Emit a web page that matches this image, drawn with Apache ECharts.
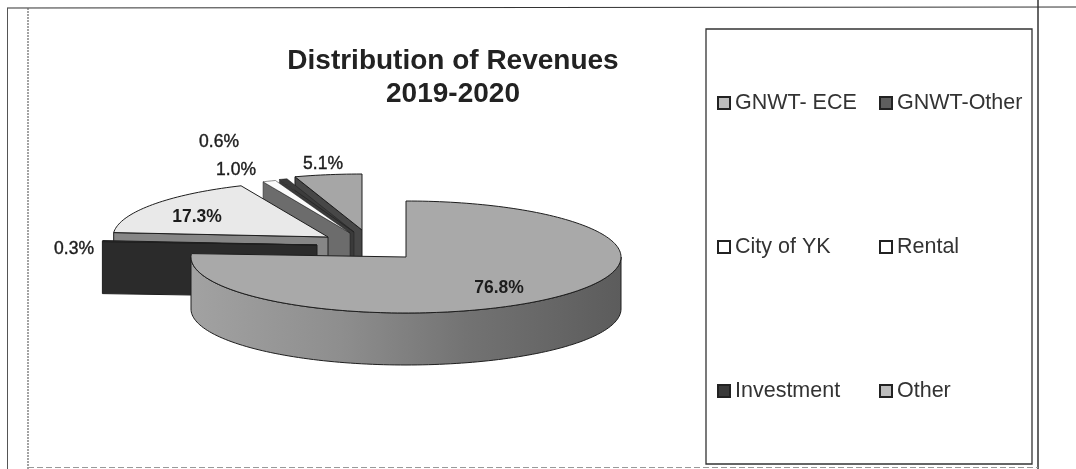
<!DOCTYPE html>
<html><head><meta charset="utf-8">
<style>html,body{margin:0;padding:0;background:#fff}#c{width:1076px;height:469px;filter:blur(0.45px)}</style>
<script src="https://cdn.jsdelivr.net/npm/echarts@6/dist/echarts.min.js"></script>
</head><body><div id="c"></div>
<script>
const categories = ['GNWT- ECE','GNWT-Other','City of YK','Rental','Investment','Other'];
const shares = [76.8,0.3,17.3,1.0,0.6,5.1];
const titleLines = ['Distribution of Revenues','2019-2020'];

// Layout and style, separate from the data
const centre = [406,257], rx = 215, ry = 56, depth = 52;
const explode = [[0,0],[-89,-12],[-78,-20],[-56,-24],[-52,-25],[-44,-27]];
const labelAt = [[499,288],[74,249],[197,217],[236,170],[219,142],[323,164]];
const labelBold = [true,false,true,false,false,false];
const topFill = ['#a9a9a9','#3a3a3a','#e9e9e9','#fbfbfb','#3c3c3c','#a6a6a6'];
const wallFill = ['#808080','#2b2b2b','#868686','#6c6c6c','#3a3a3a','#474747'];
const keyFill = ['#bdbdbd','#5f5f5f','#fff','#fff','#3a3a3a','#bdbdbd'];
const edgeWidth = [1,1,1,0.5,0.5,1];

const total = shares.reduce((a,b)=>a+b,0);
const rad = d => d*Math.PI/180;
let acc = 0;
const spans = shares.map(v => { const s=[acc,acc+v/total*360]; acc=s[1]; return s; });

function rimPoint(ax,ay,t){ return [ax+rx*Math.sin(rad(t)), ay-ry*Math.cos(rad(t))]; }
function arc(ax,ay,a,b){ const pts=[]; const n=Math.max(2,Math.ceil((b-a)/1.5)); for(let i=0;i<=n;i++) pts.push(rimPoint(ax,ay,a+(b-a)*i/n)); return pts; }

function makeSeries(i){
  return {
    type:'custom', name:categories[i], coordinateSystem:'none', z:10+(categories.length-i),
    itemStyle:{color:keyFill[i],borderColor:'#222',borderWidth:1.5},
    data:[shares[i]], animation:false, silent:true,
    renderItem:function(){
      const ax=centre[0]+explode[i][0], ay=centre[1]+explode[i][1];
      const [a,b]=spans[i], kids=[];
      const edge={stroke:'#1e1e1e',lineWidth:edgeWidth[i]};
      // outer rim wall on the part of the arc that faces the viewer
      const lo=Math.max(a,90), hi=Math.min(b,270);
      if(hi>lo){
        const top=arc(ax,ay,lo,hi);
        const bottom=top.slice().reverse().map(p=>[p[0],p[1]+depth]);
        kids.push({type:'polygon',shape:{points:top.concat(bottom)},style:Object.assign({
          fill:new echarts.graphic.LinearGradient(0,0,1,0,[
            {offset:0,color:'#a2a2a2'},{offset:.35,color:'#8e8e8e'},{offset:.65,color:'#727272'},{offset:1,color:'#5c5c5c'}])},edge)});
      }
      // cut face along the leading edge, visible for the slices on the far left
      if(a>180){
        const p=rimPoint(ax,ay,a);
        kids.push({type:'polygon',shape:{points:[[ax,ay],p,[p[0],p[1]+depth],[ax,ay+depth]]},
          style:Object.assign({fill:wallFill[i]},edge)});
      }
      // top face
      kids.push({type:'polygon',shape:{points:[[ax,ay]].concat(arc(ax,ay,a,b))},
        style:Object.assign({fill:topFill[i]},edge)});
      kids.push({type:'text',z2:50,style:{text:shares[i].toFixed(1)+'%',x:labelAt[i][0],y:labelAt[i][1],
        align:'center',verticalAlign:'middle',fill:'#1c1c1c',stroke:'#1c1c1c',lineWidth:labelBold[i]?0:0.4,
        font:(labelBold[i]?'bold ':'')+'17.5px "Liberation Sans", Arial, sans-serif'}});
      return {type:'group',children:kids};
    }
  };
}

function legendCol(left,idx){
  return {show:true,orient:'vertical',left:left,top:92,itemGap:122,itemWidth:12,itemHeight:12,padding:0,
    icon:'rect',selectedMode:false,data:idx.map(k=>categories[k]),
    textStyle:{fontFamily:'"Liberation Sans", Arial, sans-serif',fontSize:21.5,color:'#333',lineHeight:22}};
}
const line=(x1,y1,x2,y2,stroke,w,dash)=>({type:'line',silent:true,z:1,shape:{x1,y1,x2,y2},style:{stroke,lineWidth:w,lineDash:dash||null}});

const chart=echarts.init(document.getElementById('c'),null,{renderer:'canvas'});
chart.setOption({
  animation:false,backgroundColor:'#fff',
  title:{text:titleLines.join('\n'),left:448,top:40,textAlign:'center',
    textStyle:{fontFamily:'"Liberation Sans", Arial, sans-serif',fontSize:28,fontWeight:'bold',color:'#222',lineHeight:33}},
  legend:[legendCol(717,[0,2,4]),legendCol(879,[1,3,5])],
  series:categories.map((_,i)=>makeSeries(i)),
  graphic:[
    line(7,8,1076,7,'#333',1.2),
    line(7.5,8,7.5,469,'#555',1),
    line(28,8,28,469,'#666',1.2,[2,1]),
    line(1038,0,1038,469,'#333',1.5),
    line(28,467.5,1038,467.5,'#999',1,[6,3]),
    {type:'rect',silent:true,z:1,shape:{x:706,y:29,width:326,height:435},style:{fill:'none',stroke:'#333',lineWidth:1.3}}
  ]
});
</script></body></html>
